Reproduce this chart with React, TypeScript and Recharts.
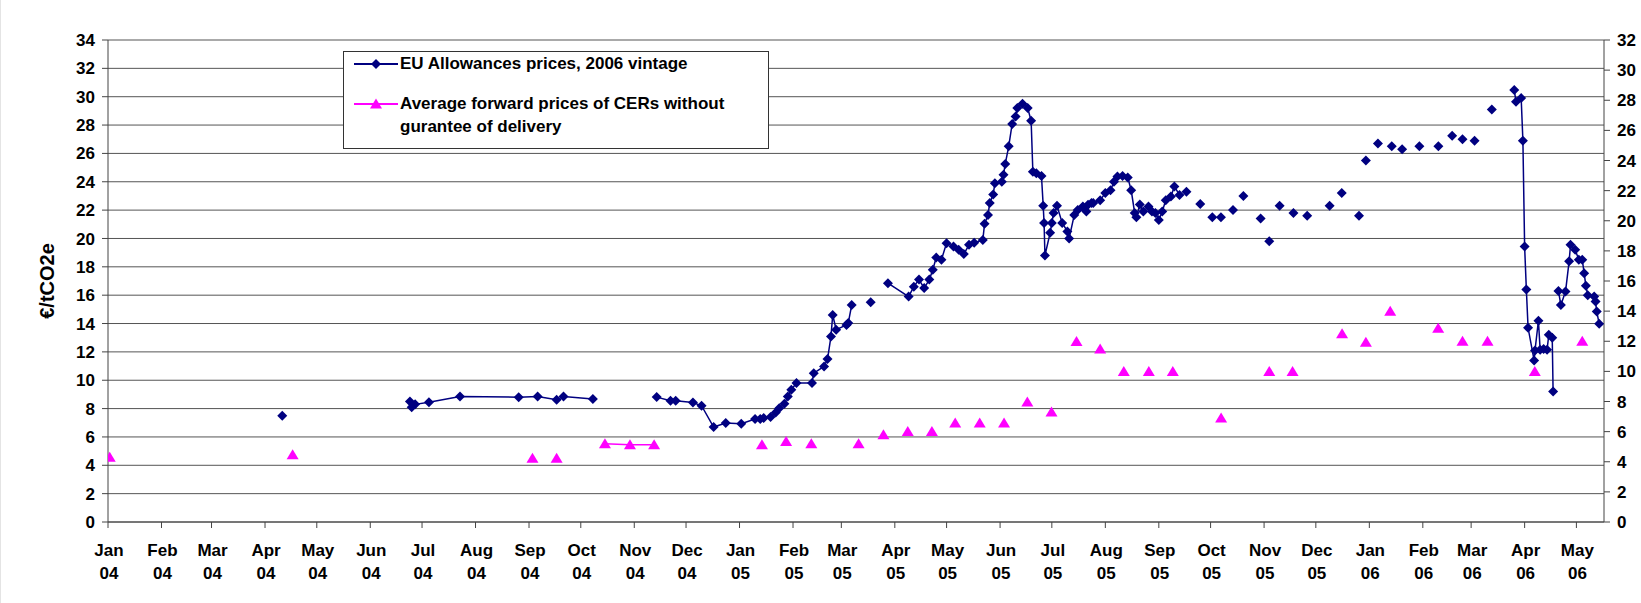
import React from "react";
import { LineChart, Line, XAxis, YAxis, CartesianGrid, Legend, Label } from "recharts";

// x values are days counted from 1 Jan 2004
const monthLabels = [
  "Jan 04", "Feb 04", "Mar 04", "Apr 04", "May 04", "Jun 04", "Jul 04", "Aug 04", "Sep 04", "Oct 04",
  "Nov 04", "Dec 04", "Jan 05", "Feb 05", "Mar 05", "Apr 05", "May 05", "Jun 05", "Jul 05", "Aug 05",
  "Sep 05", "Oct 05", "Nov 05", "Dec 05", "Jan 06", "Feb 06", "Mar 06", "Apr 06", "May 06",
];
const leftTicks = [0, 2, 4, 6, 8, 10, 12, 14, 16, 18, 20, 22, 24, 26, 28, 30, 32, 34];
const rightTicks = [0, 2, 4, 6, 8, 10, 12, 14, 16, 18, 20, 22, 24, 26, 28, 30, 32];
const lastDay = 867;

// EU allowance prices (left axis), grouped into runs that are joined by a line
const euaRuns: [number, number][][] = [
  [[101, 7.5]],
  [[175, 8.5], [176, 8.1], [178, 8.3], [186, 8.45], [204, 8.86], [238, 8.8], [249, 8.86], [260, 8.62], [264, 8.86], [281, 8.67]],
  [
    [318, 8.81], [326, 8.55], [329, 8.55], [339, 8.43], [344, 8.2], [351, 6.7], [358, 6.98], [367, 6.93],
    [375, 7.26], [378, 7.26], [380, 7.33], [384, 7.4], [387, 7.73], [389, 8.03], [392, 8.34], [394, 8.86],
    [396, 9.33], [399, 9.8], [408, 9.8], [409, 10.5], [415, 10.97], [417, 11.49], [419, 13.09], [420, 14.6],
    [422, 13.56], [428, 13.9], [429, 14.03], [431, 15.3],
  ],
  [[442, 15.5]],
  [
    [452, 16.85], [464, 15.9], [467, 16.6], [470, 17.1], [473, 16.5], [476, 17.1], [478, 17.8], [480, 18.65],
    [483, 18.5], [486, 19.67], [490, 19.43], [493, 19.2], [496, 18.9], [499, 19.55], [502, 19.7], [507, 19.9],
    [508, 21.03], [510, 21.66], [511, 22.5], [513, 23.1], [514, 23.9], [518, 24.0], [519, 24.5], [520, 25.26],
    [522, 26.5], [524, 28.08], [526, 28.6], [527, 29.2], [530, 29.5], [533, 29.2], [535, 28.3], [536, 24.7],
    [538, 24.6], [541, 24.4], [542, 22.3], [542.5, 21.1], [543, 18.8], [546, 20.4], [547, 21.1], [548, 21.8],
    [550, 22.3], [553, 21.1], [556, 20.5], [557, 20.0], [560, 21.66], [562, 22.0], [565, 22.25], [567, 21.9],
    [568, 22.37], [570, 22.5], [571, 22.5], [575, 22.7], [578, 23.2], [581, 23.4], [583, 24.0], [585, 24.37],
    [588, 24.4], [591, 24.3], [593, 23.4], [595, 21.8], [596, 21.5], [598, 22.4], [600, 21.9], [603, 22.25],
    [605, 21.9], [607, 21.8], [609, 21.3], [611, 21.9], [613, 22.7], [616, 22.96], [618, 23.66], [621, 23.07],
  ],
  [[625, 23.3]], [[633, 22.44]], [[640, 21.5]], [[645, 21.5]], [[652, 22.0]], [[658, 23.0]],
  [[668, 21.4]], [[673, 19.8]], [[679, 22.3]], [[687, 21.8]], [[695, 21.6]], [[708, 22.3]],
  [[715, 23.2]], [[725, 21.6]], [[729, 25.5]], [[736, 26.7]], [[744, 26.5]], [[750, 26.3]],
  [[760, 26.5]], [[771, 26.5]], [[779, 27.25]], [[785, 27.0]], [[792, 26.9]], [[802, 29.1]],
  [
    [815, 30.47], [816, 29.65], [819, 29.9], [820, 26.9], [821, 19.43], [822, 16.4], [823, 13.7],
    [826.5, 11.4], [827, 12.1], [829, 14.2], [830, 12.15], [832, 12.2], [834, 12.15], [835, 13.2],
    [837, 13.0], [837.5, 9.2],
  ],
  [
    [840.6, 16.3], [842, 15.3], [844.7, 16.26], [846.8, 18.4], [847.6, 19.55], [850.3, 19.2], [852.4, 18.5],
    [854.4, 18.5], [855.5, 17.55], [856.5, 16.66], [857.6, 16.0], [861.3, 15.9], [862.1, 15.55],
    [862.8, 14.85], [864.2, 13.98],
  ],
];

// CER forward prices (right axis)
const cerRuns: [number, number][][] = [
  [[1, 4.3]], [[107, 4.47]], [[246, 4.24]], [[260, 4.24]],
  [[288, 5.2], [302.5, 5.13], [316.5, 5.13]],
  [[379, 5.13]], [[393, 5.35]], [[407.6, 5.2]], [[435, 5.2]], [[449.4, 5.79]], [[463.5, 6.01]],
  [[477.5, 6.01]], [[491, 6.57]], [[505.2, 6.57]], [[519.3, 6.57]], [[532.8, 7.96]], [[546.8, 7.3]],
  [[561.3, 11.98]], [[575, 11.48]], [[588.7, 10]], [[603.2, 10]], [[617.1, 10]], [[645.1, 6.9]],
  [[673, 10]], [[686.5, 10]], [[715.2, 12.5]], [[729, 11.94]], [[743.1, 14.0]], [[770.9, 12.87]],
  [[785, 12]], [[799.5, 12]], [[826.9, 10]], [[854.4, 12]],
];

const NAVY = "#000080";
const MAGENTA = "#FF00FF";
const FONT = "'Liberation Sans', Arial, sans-serif";

function withBreaks(runs: [number, number][][], key: string) {
  const out: Record<string, number | null>[] = [];
  runs.forEach((run, i) => {
    run.forEach(([d, v]) => out.push({ day: d, [key]: v }));
    if (i < runs.length - 1) {
      out.push({ day: (run[run.length - 1][0] + runs[i + 1][0][0]) / 2, [key]: null });
    }
  });
  return out;
}

const euaData = withBreaks(euaRuns, "eua");
const cerData = withBreaks(cerRuns, "cer");

const base = Date.UTC(2004, 0, 1);
const monthNames = ["Jan", "Feb", "Mar", "Apr", "May", "Jun", "Jul", "Aug", "Sep", "Oct", "Nov", "Dec"];
const monthTicks = monthLabels.map((l) => {
  const [m, y] = l.split(" ");
  return Math.round((Date.UTC(2000 + Number(y), monthNames.indexOf(m), 1) - base) / 86400000);
});
const tickText: Record<number, string> = {};
monthTicks.forEach((d, i) => (tickText[d] = monthLabels[i]));

function Diamond({ cx, cy, r = 5 }: { cx: number; cy: number; r?: number }) {
  return <polygon points={`${cx},${cy - r} ${cx + r},${cy} ${cx},${cy + r} ${cx - r},${cy}`} fill={NAVY} />;
}

function Triangle({ cx, cy }: { cx: number; cy: number }) {
  return <polygon points={`${cx},${cy - 5.5} ${cx + 6},${cy + 4.5} ${cx - 6},${cy + 4.5}`} fill={MAGENTA} />;
}

const diamondDot = (props: any) => {
  const { cx, cy, index, value } = props;
  if (value == null || cy == null || isNaN(cy)) return <g key={`d${index}`} />;
  return <Diamond key={`d${index}`} cx={cx} cy={cy} />;
};

const triangleDot = (props: any) => {
  const { cx, cy, index, value } = props;
  if (value == null || cy == null || isNaN(cy)) return <g key={`t${index}`} />;
  return <Triangle key={`t${index}`} cx={cx} cy={cy} />;
};

function MonthTick(props: any) {
  const { x, y, payload } = props;
  const [m, yr] = (tickText[payload.value] || "").split(" ");
  return (
    <text x={x + 1} y={y} textAnchor="middle" fill="#000" fontSize={17} fontWeight="bold" fontFamily={FONT}>
      <tspan x={x + 1} dy={26}>{m}</tspan>
      <tspan x={x + 1} dy={23}>{yr}</tspan>
    </text>
  );
}

function LegendBox() {
  const row = (color: string, marker: React.ReactNode, lines: string[], top: number) => (
    <div style={{ position: "absolute", left: 0, top, display: "flex" }}>
      <svg width={56} height={20} style={{ flex: "none" }}>
        <line x1={10} y1={10} x2={54} y2={10} stroke={color} strokeWidth={2} />
        {marker}
      </svg>
      <div style={{ lineHeight: "23px", marginTop: -2 }}>
        {lines.map((t) => (
          <div key={t}>{t}</div>
        ))}
      </div>
    </div>
  );
  return (
    <div
      style={{
        position: "relative",
        width: 424,
        height: 96,
        border: "1px solid #333",
        background: "#fff",
        fontFamily: FONT,
        fontSize: 17,
        fontWeight: "bold",
        color: "#000",
        whiteSpace: "nowrap",
      }}
    >
      {row(NAVY, <Diamond cx={32} cy={10} r={5} />, ["EU Allowances prices, 2006 vintage"], 2)}
      {row(MAGENTA, <Triangle cx={32} cy={10} />, ["Average forward prices of CERs without", "gurantee of delivery"], 42)}
    </div>
  );
}

const axisTick = { fill: "#000", fontSize: 17, fontWeight: "bold", fontFamily: FONT };

export default function App() {
  return (
    <div
      style={{
        position: "absolute",
        left: 0,
        top: 0,
        width: 1641,
        height: 603,
        background: "#fff",
        overflow: "hidden",
        boxShadow: "inset 9px 0 0 -8px #e4e4e4",
      }}
    >
      <LineChart width={1641} height={603} margin={{ top: 40, right: 7, left: 8, bottom: 21 }}>
        <CartesianGrid yAxisId="left" vertical={false} stroke="#555" />
        <XAxis
          dataKey="day"
          type="number"
          domain={[0, lastDay]}
          ticks={monthTicks}
          interval={0}
          allowDataOverflow
          height={60}
          tickSize={6}
          tickMargin={2}
          tick={<MonthTick />}
          stroke="#444"
        />
        <YAxis
          yAxisId="left"
          domain={[0, 34]}
          ticks={leftTicks}
          interval={0}
          width={100}
          tickSize={6}
          tickMargin={7}
          tick={axisTick}
          stroke="#444"
        >
          <Label
            content={(p: any) => {
              const vb = p.viewBox || { x: 8, y: 40, height: 482 };
              const cx = vb.x + 39;
              const cy = vb.y + vb.height / 2;
              return (
                <text
                  x={cx}
                  y={cy}
                  transform={`rotate(-90 ${cx} ${cy})`}
                  textAnchor="middle"
                  dominantBaseline="central"
                  fontSize={20}
                  fontWeight="bold"
                  fontFamily={FONT}
                  fill="#000"
                >
                  €/tCO2e
                </text>
              );
            }}
          />
        </YAxis>
        <YAxis
          yAxisId="right"
          orientation="right"
          domain={[0, 32]}
          ticks={rightTicks}
          interval={0}
          width={30}
          tickSize={6}
          tickMargin={7}
          tick={{ ...axisTick, textAnchor: "start" }}
          stroke="#444"
        />
        <Legend
          layout="vertical"
          align="center"
          verticalAlign="middle"
          wrapperStyle={{ left: 343, top: 51, width: 426 }}
          content={() => <LegendBox />}
        />
        <Line
          yAxisId="left"
          data={euaData}
          dataKey="eua"
          stroke={NAVY}
          strokeWidth={1.5}
          dot={diamondDot}
          activeDot={false}
          connectNulls={false}
          isAnimationActive={false}
          legendType="diamond"
          name="EU Allowances prices, 2006 vintage"
        />
        <Line
          yAxisId="right"
          data={cerData}
          dataKey="cer"
          stroke={MAGENTA}
          strokeWidth={1.5}
          dot={triangleDot}
          activeDot={false}
          connectNulls={false}
          isAnimationActive={false}
          legendType="triangle"
          name="Average forward prices of CERs without gurantee of delivery"
        />
      </LineChart>
    </div>
  );
}
